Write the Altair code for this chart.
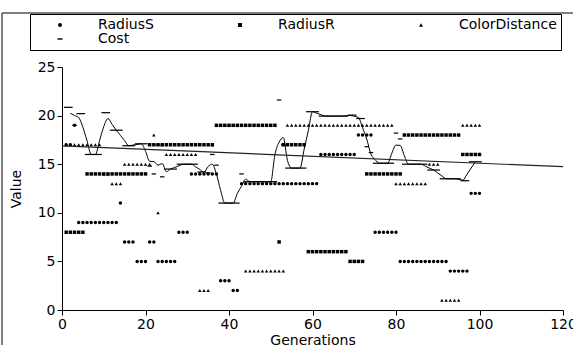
import altair as alt
import pandas as pd

generations = list(range(1, 101))

radius_s = [
    17, 17, 19, 9, 9, 9, 9, 9, 9, 9,
    9, 9, 9, 11, 7, 7, 7, 5, 5, 5,
    7, 7, 5, 5, 5, 5, 5, 8, 8, 8,
    14, 14, 14, 14, 14, 14, 14, 3, 3, 3,
    2, 2, 13, 13, 13, 13, 13, 13, 13, 13,
    13, 13, 13, 13, 13, 13, 13, 13, 13, 13,
    13, 16, 16, 16, 16, 16, 16, 16, 16, 16,
    18, 18, 18, 18, 8, 8, 8, 8, 8, 8,
    5, 5, 5, 5, 5, 5, 5, 5, 5, 5,
    5, 5, 4, 4, 4, 4, 4, 12, 12, 12,
]

radius_r = [
    8, 8, 8, 8, 8, 14, 14, 14, 14, 14,
    14, 14, 14, 14, 14, 14, 14, 14, 14, 14,
    17, 17, 17, 17, 17, 17, 17, 17, 17, 17,
    17, 17, 17, 17, 17, 17, 19, 19, 19, 19,
    19, 19, 19, 19, 19, 19, 19, 19, 19, 19,
    19, 7, 17, 17, 17, 17, 17, 17, 6, 6,
    6, 6, 6, 6, 6, 6, 6, 6, 5, 5,
    5, 5, 14, 14, 14, 14, 14, 14, 14, 14,
    14, 18, 18, 18, 18, 18, 18, 18, 18, 18,
    18, 18, 18, 18, 18, 16, 16, 16, 16, 16,
]

color_distance = [
    17, 17, 17, 17, 17, 17, 17, 17, 17, 14,
    14, 13, 13, 13, 15, 15, 15, 15, 15, 15,
    15, 18, 10, 17, 16, 16, 16, 16, 16, 16,
    16, 16, 2, 2, 2, 17, 19, 19, 19, 19,
    19, 19, 19, 4, 4, 4, 4, 4, 4, 4,
    4, 4, 4, 19, 19, 19, 19, 19, 19, 19,
    19, 19, 19, 19, 19, 19, 19, 19, 19, 19,
    19, 19, 19, 19, 19, 19, 19, 19, 19, 13,
    13, 13, 13, 13, 13, 13, 13, 15, 15, 15,
    1, 1, 1, 1, 1, 19, 19, 19, 19, 19,
]

cost = [
    20.85, 20.85, 19.0, 20.2, 20.2, 16.0, 16.0, 16.0, 16.0, 20.3,
    20.3, 18.5, 18.5, 18.5, 16.9, 16.9, 16.9, 17.1, 17.1, 17.1,
    14.8, 14.0, 17.0, 13.7, 14.5, 14.5, 14.5, 15.0, 15.0, 15.0,
    15.0, 15.0, 14.2, 14.2, 14.1, 16.0, 14.9, 11.0, 11.0, 11.0,
    11.0, 11.0, 14.0, 13.2, 13.2, 13.2, 13.2, 13.2, 13.2, 13.2,
    13.2, 21.6, 17.0, 14.6, 14.6, 14.6, 14.6, 14.6, 20.4, 20.4,
    20.4, 19.95, 19.95, 19.95, 19.95, 19.95, 19.95, 19.95, 20.05, 20.05,
    19.7, 19.7, 16.8, 16.2, 15.1, 15.1, 15.1, 15.1, 15.1, 18.2,
    17.6, 15.0, 15.0, 15.0, 15.0, 15.0, 15.0, 14.4, 14.4, 14.4,
    13.5, 13.5, 13.5, 13.5, 13.5, 13.3, 13.3, 15.25, 15.25, 15.25,
]

series_names = ["RadiusS", "RadiusR", "ColorDistance", "Cost"]
x_ticks = [0, 20, 40, 60, 80, 100, 120]
y_ticks = [0, 5, 10, 15, 20, 25]

frames = []
for name, vals in zip(series_names, [radius_s, radius_r, color_distance, cost]):
    frames.append(pd.DataFrame({"Generation": generations, "Series": name, "Value": vals}))
long_df = pd.concat(frames, ignore_index=True)
cost_df = pd.DataFrame({"Generation": generations, "Value": cost})

dash_path = "M-1.3,-0.35H1.3V0.35H-1.3Z"
FONT = "DejaVu Sans"

x_enc = alt.X("Generation:Q", title="Generations",
              scale=alt.Scale(domain=[0, 120], nice=False),
              axis=alt.Axis(values=x_ticks, labelFlush=False))
y_enc = alt.Y("Value:Q", title="Value",
              scale=alt.Scale(domain=[0, 25], nice=False),
              axis=alt.Axis(values=y_ticks))

points = alt.Chart(long_df).mark_point(filled=True, color="black", size=12, opacity=1).encode(
    x=x_enc,
    y=y_enc,
    shape=alt.Shape(
        "Series:N",
        scale=alt.Scale(domain=series_names,
                        range=["circle", "square", "triangle-up", dash_path]),
        sort=series_names,
        legend=alt.Legend(
            title=None, orient="none", legendX=-32, legendY=-53, columns=3,
            direction="horizontal",
            strokeColor="black", padding=4, symbolOffset=19, labelOffset=31,
            columnPadding=60, rowPadding=0, symbolSize=16,
            symbolFillColor="black", symbolStrokeColor="black", symbolStrokeWidth=0,
            labelFont=FONT, labelFontSize=14, labelColor="black",
        ),
    ),
)

moving = alt.Chart(cost_df).transform_window(
    ma="mean(Value)", cnt="count()", frame=[-1, 1], sort=[alt.SortField("Generation")]
).transform_filter(alt.datum.cnt == 3).mark_line(
    color="black", strokeWidth=1, interpolate="monotone"
).encode(x="Generation:Q", y="ma:Q")

trend = alt.Chart(cost_df).transform_regression(
    "Generation", "Value", extent=[0, 120]
).mark_line(color="#222222", strokeWidth=1.2).encode(x="Generation:Q", y="Value:Q")

frame_rect = alt.Chart(pd.DataFrame({"k": [0]})).mark_rect(
    filled=False, stroke="black", strokeWidth=1
).encode(x=alt.value(-60), x2=alt.value(540), y=alt.value(-54), y2=alt.value(300))

chart = alt.layer(frame_rect, points, moving, trend).properties(
    width=501, height=243,
    autosize=alt.AutoSizeParams(type="none"),
    padding={"left": 62, "top": 67, "right": 10, "bottom": 35},
    background="white",
).configure_view(stroke=None).configure_axis(
    domainColor="black", tickColor="black", labelColor="black", titleColor="black",
    labelFont=FONT, titleFont=FONT, labelFontSize=14, titleFontSize=14,
    titleFontWeight="normal", grid=False, tickSize=5, labelPadding=2,
).configure_axisY(titlePadding=14).configure_axisX(titlePadding=2)

chart.save("out.html", embed_options={"renderer": "svg", "actions": False})
